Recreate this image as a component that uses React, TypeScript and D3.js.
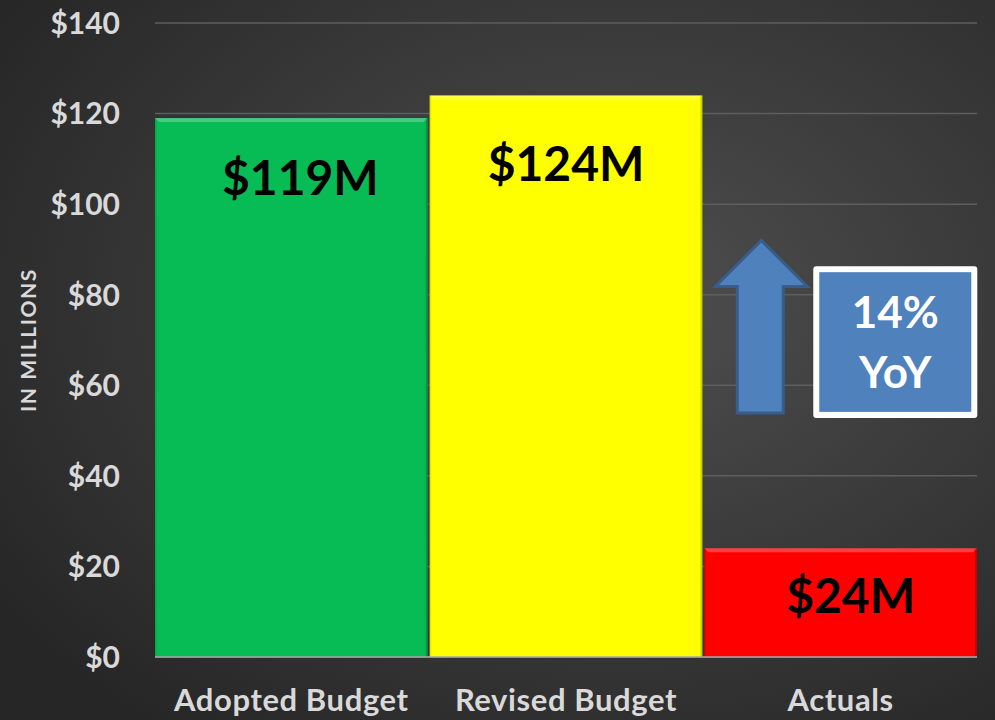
import React from "react";
import * as d3 from "d3";

const categories = ["Adopted Budget", "Revised Budget", "Actuals"];
const values = [119, 124, 24];
const valueLabels = ["$119M", "$124M", "$24M"];
const barColors = ["#07BB55", "#FFFF00", "#FF0000"];
const yTicks = [0, 20, 40, 60, 80, 100, 120, 140];
const yoyLines = ["14%", "YoY"];

const W = 995;
const H = 720;
const FONT = "Lato, 'Open Sans', sans-serif";
// layout tweaks for label placement (not data)
const labelDx = [9, 0, 10];
const labelDy = [77, 86, 65];

export default function App() {
  const x = d3.scaleBand<string>().domain(categories).range([155, 977]).paddingInner(0.007).paddingOuter(0);
  const y = d3.scaleLinear().domain([0, 140]).range([657, 23]);
  const fmt = (v: number) => `$${v}`;

  const aBand = x("Actuals")!;
  // arrow annotation (in data units for y)
  const arrowTip = y(92);
  const arrowHeadBase = y(81.8);
  const arrowBottom = y(53.9);
  const ax0 = aBand + 11;
  const ax1 = aBand + 103;
  const sx0 = aBand + 33;
  const sx1 = aBand + 79;
  const axm = (ax0 + ax1) / 2;
  const arrowPath = `M${axm},${arrowTip} L${ax1},${arrowHeadBase} L${sx1},${arrowHeadBase} L${sx1},${arrowBottom} L${sx0},${arrowBottom} L${sx0},${arrowHeadBase} L${ax0},${arrowHeadBase} Z`;

  const boxX0 = aBand + 109;
  const boxX1 = aBand + 273;
  const boxY0 = y(86.3);
  const boxY1 = y(52.8);

  return (
    <svg width={W} height={H} style={{ position: "absolute", left: 0, top: 0, display: "block" }}>
      <defs>
        <radialGradient id="bg" cx="62%" cy="42%" r="75%">
          <stop offset="0%" stopColor="#4f4f4f" />
          <stop offset="100%" stopColor="#262626" />
        </radialGradient>
      </defs>
      <rect x={0} y={0} width={W} height={H} fill="url(#bg)" />

      {yTicks.map((t) => (
        <line key={"g" + t} x1={155} x2={977} y1={y(t)} y2={y(t)} stroke="#5e5e5e" strokeWidth={1.5} />
      ))}

      {categories.map((c, i) => {
        const bx = x(c)!;
        const bw = x.bandwidth();
        const by = y(values[i]);
        const bh = y(0) - by;
        return (
          <g key={c}>
            <rect x={bx} y={by} width={bw} height={bh} fill={barColors[i]} />
            <path
              d={`M${bx},${by} L${bx + bw},${by} L${bx + bw - 4},${by + 4} L${bx + 4},${by + 4} Z`}
              fill="#ffffff"
              opacity={0.25}
            />
            <rect x={bx + bw - 2} y={by} width={2} height={bh} fill="#000" opacity={0.18} />
            <rect x={bx} y={by} width={1.5} height={bh} fill="#000" opacity={0.1} />
            <text
              x={bx + bw / 2 + labelDx[i]}
              y={by + labelDy[i]}
              textAnchor="middle"
              fontFamily={FONT}
              fontWeight={700}
              fontSize={48}
              fill="#000"
            >
              {valueLabels[i]}
            </text>
          </g>
        );
      })}

      <line x1={155} x2={977} y1={y(0)} y2={y(0)} stroke="#a8a8a8" strokeWidth={1.5} />

      {yTicks.map((t) => (
        <text
          key={"t" + t}
          x={120}
          y={y(t)}
          dy="0.36em"
          textAnchor="end"
          fontFamily={FONT}
          fontWeight={700}
          fontSize={30}
          fill="#d9d9d9"
        >
          {fmt(t)}
        </text>
      ))}

      {categories.map((c) => (
        <text
          key={"x" + c}
          x={x(c)! + x.bandwidth() / 2}
          y={711}
          textAnchor="middle"
          fontFamily={FONT}
          fontWeight={700}
          fontSize={31}
          letterSpacing={0.6}
          fill="#d9d9d9"
        >
          {c}
        </text>
      ))}

      <text
        transform={`translate(36,${340}) rotate(-90)`}
        textAnchor="middle"
        fontFamily={FONT}
        fontWeight={700}
        fontSize={21}
        letterSpacing={1.6}
        fill="#d9d9d9"
      >
        IN MILLIONS
      </text>

      <path d={arrowPath} fill="#4F81BD" stroke="#385D8A" strokeWidth={3} strokeLinejoin="miter" />

      <rect x={boxX0} y={boxY0} width={boxX1 - boxX0} height={boxY1 - boxY0} rx={3} fill="#ffffff" />
      <rect x={boxX0 + 6} y={boxY0 + 6} width={boxX1 - boxX0 - 12} height={boxY1 - boxY0 - 12} fill="#4F81BD" />
      {yoyLines.map((s, i) => (
        <text
          key={s}
          x={(boxX0 + boxX1) / 2}
          y={boxY0 + 62 + i * 60}
          textAnchor="middle"
          fontFamily={FONT}
          fontWeight={700}
          fontSize={44}
          fill="#ffffff"
        >
          {s}
        </text>
      ))}
    </svg>
  );
}
